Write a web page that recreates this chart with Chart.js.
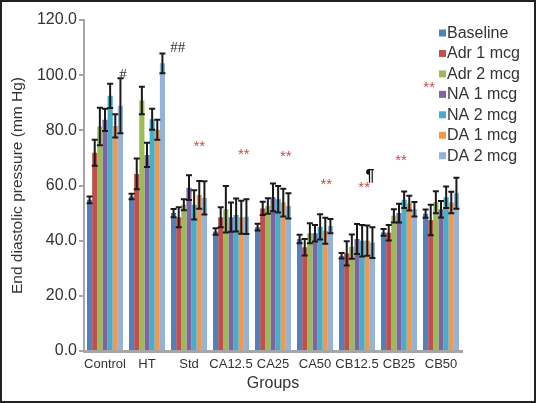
<!DOCTYPE html>
<html>
<head>
<meta charset="utf-8">
<title>End diastolic pressure</title>
<script src="https://cdn.jsdelivr.net/npm/chart.js@4.4.1/dist/chart.umd.min.js"></script>
<style>
  html,body{ margin:0; padding:0; background:#fff; }
  canvas{ display:block; }
</style>
</head>
<body>
<canvas id="chart-edp" width="536" height="403"></canvas>
<script>
// groups on the x axis
const groups = ['Control','HT','Std','CA12.5','CA25','CA50','CB12.5','CB25','CB50'];
const yTicks = [0,20,40,60,80,100,120];

// mean values (mm Hg)
const baseline = [54.8, 56.0, 50.0, 43.3, 44.9, 40.6, 34.5, 43.0, 49.8];
const adr1     = [71.9, 64.2, 48.5, 48.5, 51.7, 37.6, 35.4, 42.9, 47.5];
const adr2     = [81.4, 90.8, 53.0, 51.4, 52.6, 42.7, 37.8, 49.0, 53.9];
const na1      = [83.8, 71.1, 59.2, 48.5, 55.7, 42.7, 40.6, 50.0, 51.4];
const na2      = [92.5, 84.0, 53.0, 49.3, 55.0, 45.0, 40.0, 54.8, 55.7];
const da1      = [81.6, 80.2, 56.6, 48.5, 53.8, 43.6, 40.0, 53.6, 53.8];
const da2      = [88.9, 104.3, 55.5, 48.7, 52.6, 45.3, 39.3, 51.4, 57.2];

// error bar half-lengths
const baselineErr = [1.2, 1.0, 1.5, 1.2, 1.2, 1.5, 1.0, 1.2, 1.5];
const adr1Err     = [4.7, 5.6, 3.6, 3.6, 2.4, 3.0, 4.4, 2.8, 5.5];
const adr2Err     = [6.8, 5.0, 2.0, 8.4, 2.8, 3.6, 4.4, 2.4, 4.0];
const na1Err      = [4.0, 4.4, 4.5, 5.3, 5.0, 3.0, 5.4, 3.4, 3.0];
const na2Err      = [4.4, 3.8, 5.3, 6.0, 4.8, 4.6, 5.7, 3.0, 3.9];
const da1Err      = [4.2, 3.6, 5.0, 6.0, 5.0, 4.7, 5.5, 2.7, 3.9];
const da2Err      = [10.0, 3.6, 6.0, 6.3, 4.6, 2.6, 5.6, 2.6, 5.6];

const seriesNames = ['Baseline','Adr 1 mcg','Adr 2 mcg','NA 1 mcg','NA 2 mcg','DA 1 mcg','DA 2 mcg'];
const seriesValues = [baseline, adr1, adr2, na1, na2, da1, da2];
const seriesErrors = [baselineErr, adr1Err, adr2Err, na1Err, na2Err, da1Err, da2Err];
const seriesColors = ['#4f81bd','#c0504d','#9bbb59','#8064a2','#4bacc6','#f79646','#95b3d7'];

// significance marks: group index, bar slot inside the group, value level, text
const marks = [
  { group:0, slot:6.5, value:100.3, text:'#' },
  { group:1, slot:9.0, value:110.3, text:'##' },
  { group:2, slot:5.0, value:75.1, text:'**' },
  { group:3, slot:5.5, value:72.3, text:'**' },
  { group:4, slot:5.5, value:71.5, text:'**' },
  { group:5, slot:5.2, value:61.3, text:'**' },
  { group:6, slot:4.4, value:60.2, text:'**' },
  { group:6, slot:5.5, value:63.5, text:'\u00b6' },
  { group:7, slot:3.4, value:69.8, text:'**' },
  { group:8, slot:0.7, value:96.5, text:'**' }
];

const FONT = '"Liberation Sans", Arial, sans-serif';
Chart.defaults.font.family = FONT;
Chart.defaults.color = '#333';

const errorBars = {
  id:'errorBars',
  afterDatasetsDraw(chart){
    const { ctx, scales:{ y } } = chart;
    ctx.save();
    ctx.strokeStyle = '#1a1a1a';
    ctx.lineWidth = 2;
    chart.data.datasets.forEach((ds, i) => {
      chart.getDatasetMeta(i).data.forEach((bar, j) => {
        const v = ds.data[j], e = ds.errors[j];
        const top = y.getPixelForValue(v + e), bot = y.getPixelForValue(v - e);
        const w = 3;
        ctx.beginPath();
        ctx.moveTo(bar.x, top); ctx.lineTo(bar.x, bot);
        ctx.moveTo(bar.x - w, top); ctx.lineTo(bar.x + w, top);
        ctx.moveTo(bar.x - w, bot); ctx.lineTo(bar.x + w, bot);
        ctx.stroke();
      });
    });
    ctx.restore();
  }
};

const markLabels = {
  id:'markLabels',
  afterDraw(chart){
    const { ctx, scales:{ y } } = chart;
    const first = chart.getDatasetMeta(0).data;
    ctx.save();
    ctx.textAlign = 'center';
    ctx.textBaseline = 'alphabetic';
    marks.forEach(m => {
      const bar = first[m.group];
      const x = bar.x + m.slot * bar.width;
      const yc = y.getPixelForValue(m.value);
      if (m.text.startsWith('*')) { ctx.font = '15px ' + FONT; ctx.fillStyle = '#c0504d'; }
      else if (m.text.startsWith('#')) { ctx.font = '15px "Liberation Serif", serif'; ctx.fillStyle = '#333'; }
      else { ctx.font = 'bold 16px ' + FONT; ctx.fillStyle = '#111'; }
      const mt = ctx.measureText(m.text);
      ctx.fillText(m.text, x, yc + (mt.actualBoundingBoxAscent - mt.actualBoundingBoxDescent) / 2);
    });
    ctx.restore();
  }
};

// legend sits on top of the plot, like the original
const legendBox = {
  id:'legendBox',
  afterDraw(chart){
    const { ctx } = chart;
    ctx.save();
    ctx.font = '16px ' + FONT;
    ctx.textBaseline = 'middle';
    ctx.textAlign = 'left';
    chart.data.datasets.forEach((ds, i) => {
      const cy = 32.5 + i * 20.45;
      ctx.fillStyle = ds.backgroundColor;
      ctx.fillRect(439, cy - 3, 7, 7);
      ctx.fillStyle = '#333';
      ctx.fillText(ds.label, 447, cy + 1);
    });
    ctx.restore();
  }
};

const frame = {
  id:'frame',
  afterDraw(chart){
    const { ctx, width, height } = chart;
    ctx.save();
    ctx.strokeStyle = '#222';
    ctx.lineWidth = 2;
    ctx.strokeRect(1, 1, width - 2, height - 2);
    ctx.restore();
  }
};

new Chart(document.getElementById('chart-edp'), {
  type:'bar',
  data:{
    labels: groups,
    datasets: seriesNames.map((name, i) => ({
      label: name,
      data: seriesValues[i],
      errors: seriesErrors[i],
      backgroundColor: seriesColors[i],
      borderWidth: 0,
      categoryPercentage: 0.857,
      barPercentage: 1.0
    }))
  },
  options:{
    responsive:false,
    animation:false,
    layout:{ padding:{ top:20, right:74, bottom:6, left:0 } },
    plugins:{ legend:{ display:false }, tooltip:{ enabled:false } },
    scales:{
      x:{
        grid:{ display:false, drawTicks:false },
        border:{ color:'#a6a6a6', width:3 },
        ticks:{ color:'#333', font:{ size:13 }, maxRotation:0, autoSkip:false, padding:6 },
        title:{ display:true, text:'Groups', color:'#333', font:{ size:16 }, padding:{ top:0, bottom:4 } },
        afterFit(s){ s.height = 46; }
      },
      y:{
        min:0, max:120,
        afterBuildTicks(s){ s.ticks = yTicks.map(v => ({ value:v })); },
        ticks:{ color:'#333', font:{ size:16 }, padding:2, callback: v => Number(v).toFixed(1) },
        grid:{ drawOnChartArea:false, drawTicks:true, tickLength:5, color:'#a6a6a6', lineWidth:2 },
        border:{ color:'#a6a6a6', width:2 },
        title:{ display:true, text:'End diastolic pressure (mm Hg)', color:'#333', font:{ size:15.5 }, padding:{ top:8, bottom:0 } },
        afterFit(s){ s.width = 84; }
      }
    }
  },
  plugins:[errorBars, markLabels, legendBox, frame]
});
</script>
</body>
</html>
